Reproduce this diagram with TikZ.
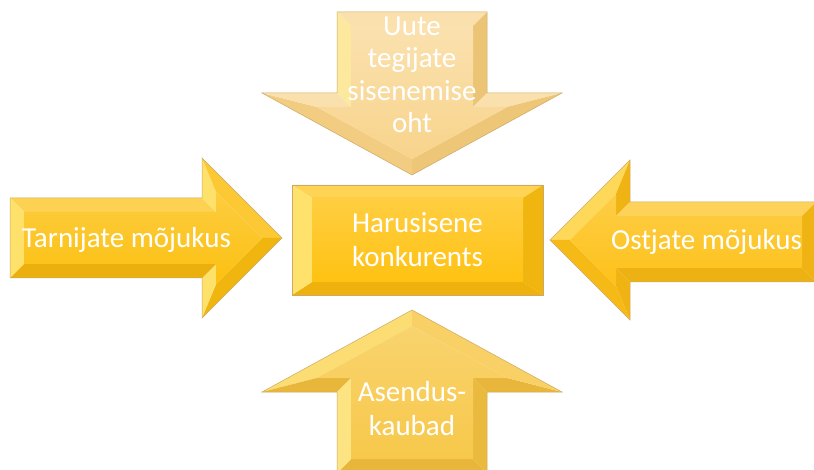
\documentclass[tikz,border=0pt]{standalone}
\usepackage{fontspec}
\setmainfont{Carlito}
\definecolor{deep}{HTML}{A86F00}
\definecolor{hl}{HTML}{FFF7A8}
\definecolor{goldA}{HTML}{FCC010}
\definecolor{goldC}{HTML}{FFC212}
\definecolor{goldR}{HTML}{FDC118}
\definecolor{goldB}{HTML}{F7C84A}
\definecolor{paleT}{HTML}{F8D48C}
\newcommand\bevset[1]{%
  \colorlet{fF}{#1}%
  \colorlet{fT}{#1!72!white}%
  \colorlet{fL}{#1!40!hl}%
  \colorlet{fR}{#1!84!deep}%
  \colorlet{fB}{#1!80!deep}%
  \colorlet{fTR}{#1!85!white}%
  \colorlet{fBR}{#1!86!deep}%
  \colorlet{fTL}{#1!55!hl}%
  \colorlet{fBL}{#1!92!deep}}
\newcommand\fct[5]{\fill[#5] (#1)--(#2)--(#3)--(#4)--cycle;}
\tikzset{
  edge/.style={draw=deep!60!white, line width=0.5pt},
  lbl/.style={text=white, inner sep=0pt, font=\fontsize{29}{34}\selectfont, align=center}
}
\begin{document}
\begin{tikzpicture}[x=1pt,y=-1pt]
\useasboundingbox (0,0) rectangle (814,470);
\clip (0,0) rectangle (814,470);
% ---------- top arrow ----------
\bevset{paleT}
\coordinate (T1) at (337,12); \coordinate (T2) at (487,12); \coordinate (T3) at (487,93);
\coordinate (T4) at (562,93); \coordinate (T5) at (412,175); \coordinate (T6) at (262,93);
\coordinate (T7) at (337,93);
\coordinate (t1) at (351,26); \coordinate (t2) at (473,26); \coordinate (t3) at (473,107);
\coordinate (t4) at (507.2,107); \coordinate (t5) at (412,159); \coordinate (t6) at (316.8,107);
\coordinate (t7) at (351,107);
\fct{T1}{T2}{t2}{t1}{fT}
\fct{T2}{T3}{t3}{t2}{fR}
\fct{T3}{T4}{t4}{t3}{fT}
\fct{T4}{T5}{t5}{t4}{fBR}
\fct{T5}{T6}{t6}{t5}{fBL}
\fct{T6}{T7}{t7}{t6}{fT}
\fct{T7}{T1}{t1}{t7}{fL}
\shade[top color=fF!70!white, bottom color=fF] (t1)--(t2)--(t3)--(t4)--(t5)--(t6)--(t7)--cycle;
\draw[edge] (T1)--(T2)--(T3)--(T4)--(T5)--(T6)--(T7)--cycle;
% ---------- bottom arrow ----------
\bevset{goldB}
\coordinate (B1) at (337,473); \coordinate (B2) at (487,473); \coordinate (B3) at (487,392);
\coordinate (B4) at (562,392); \coordinate (B5) at (412,310); \coordinate (B6) at (262,392);
\coordinate (B7) at (337,392);
\coordinate (b1) at (351,459); \coordinate (b2) at (473,459); \coordinate (b3) at (473,378);
\coordinate (b4) at (507.2,378); \coordinate (b5) at (412,326); \coordinate (b6) at (316.8,378);
\coordinate (b7) at (351,378);
\fct{B1}{B2}{b2}{b1}{fB}
\fct{B2}{B3}{b3}{b2}{fR}
\fct{B3}{B4}{b4}{b3}{fB}
\fct{B4}{B5}{b5}{b4}{fTR}
\fct{B5}{B6}{b6}{b5}{fTL}
\fct{B6}{B7}{b7}{b6}{fB}
\fct{B7}{B1}{b1}{b7}{fL}
\shade[top color=fF!80!white, bottom color=fF] (b1)--(b2)--(b3)--(b4)--(b5)--(b6)--(b7)--cycle;
\draw[edge] (B1)--(B2)--(B3)--(B4)--(B5)--(B6)--(B7)--cycle;
% ---------- left arrow ----------
\bevset{goldA}
\coordinate (L1) at (10,198); \coordinate (L2) at (202,198); \coordinate (L3) at (202,158);
\coordinate (L4) at (282,238); \coordinate (L5) at (202,318); \coordinate (L6) at (202,278);
\coordinate (L7) at (10,278);
\coordinate (l1) at (24,212); \coordinate (l2) at (216,212); \coordinate (l3) at (216,191.8);
\coordinate (l4) at (262.2,238); \coordinate (l5) at (216,284.2); \coordinate (l6) at (216,264);
\coordinate (l7) at (24,264);
\fct{L1}{L2}{l2}{l1}{fT}
\fct{L2}{L3}{l3}{l2}{fL}
\fct{L3}{L4}{l4}{l3}{fTR}
\fct{L4}{L5}{l5}{l4}{fBR}
\fct{L5}{L6}{l6}{l5}{fL}
\fct{L6}{L7}{l7}{l6}{fB}
\fct{L7}{L1}{l1}{l7}{fL}
\shade[top color=fF!80!white, bottom color=fF] (l1)--(l2)--(l3)--(l4)--(l5)--(l6)--(l7)--cycle;
\draw[edge] (L1)--(L2)--(L3)--(L4)--(L5)--(L6)--(L7)--cycle;
% ---------- right arrow ----------
\bevset{goldR}
\coordinate (R1) at (550,240); \coordinate (R2) at (630,160); \coordinate (R3) at (630,202);
\coordinate (R4) at (816,202); \coordinate (R5) at (816,282); \coordinate (R6) at (630,282);
\coordinate (R7) at (630,320);
\coordinate (r1) at (569.8,240); \coordinate (r2) at (616,193.8); \coordinate (r3) at (616,216);
\coordinate (r4) at (802,216); \coordinate (r5) at (802,268); \coordinate (r6) at (616,268);
\coordinate (r7) at (616,286.2);
\fct{R1}{R2}{r2}{r1}{fTL}
\fct{R2}{R3}{r3}{r2}{fR}
\fct{R3}{R4}{r4}{r3}{fT}
\fct{R4}{R5}{r5}{r4}{fR}
\fct{R5}{R6}{r6}{r5}{fB}
\fct{R6}{R7}{r7}{r6}{fR}
\fct{R7}{R1}{r1}{r7}{fBL}
\shade[top color=fF!80!white, bottom color=fF] (r1)--(r2)--(r3)--(r4)--(r5)--(r6)--(r7)--cycle;
\draw[edge] (R1)--(R2)--(R3)--(R4)--(R5)--(R6)--(R7)--cycle;
% ---------- centre box ----------
\bevset{goldC}
\coordinate (C1) at (292,185); \coordinate (C2) at (543,185); \coordinate (C3) at (543,295);
\coordinate (C4) at (292,295);
\coordinate (c1) at (312,198); \coordinate (c2) at (523,198); \coordinate (c3) at (523,282);
\coordinate (c4) at (312,282);
\fct{C1}{C2}{c2}{c1}{fT}
\fct{C2}{C3}{c3}{c2}{fR}
\fct{C3}{C4}{c4}{c3}{fB}
\fct{C4}{C1}{c1}{c4}{fL}
\shade[top color=fF!80!white, bottom color=fF] (c1)--(c2)--(c3)--(c4)--cycle;
\draw[edge] (C1)--(C2)--(C3)--(C4)--cycle;
% ---------- labels ----------
\node[lbl, font=\fontsize{29}{32.5}\selectfont] (top) at (412,75) {Uute\\tegijate\\sisenemise\\oht};
\node[lbl] (bot) at (412,409) {Asendus-\\kaubad};
\node[lbl] (mid) at (417.5,240) {Harusisene\\konkurents};
\node[lbl, anchor=base] (left) at (126.5,248) {Tarnijate mõjukus};
\node[lbl, anchor=base] (right) at (706.5,250) {Ostjate mõjukus};
\end{tikzpicture}
\end{document}
